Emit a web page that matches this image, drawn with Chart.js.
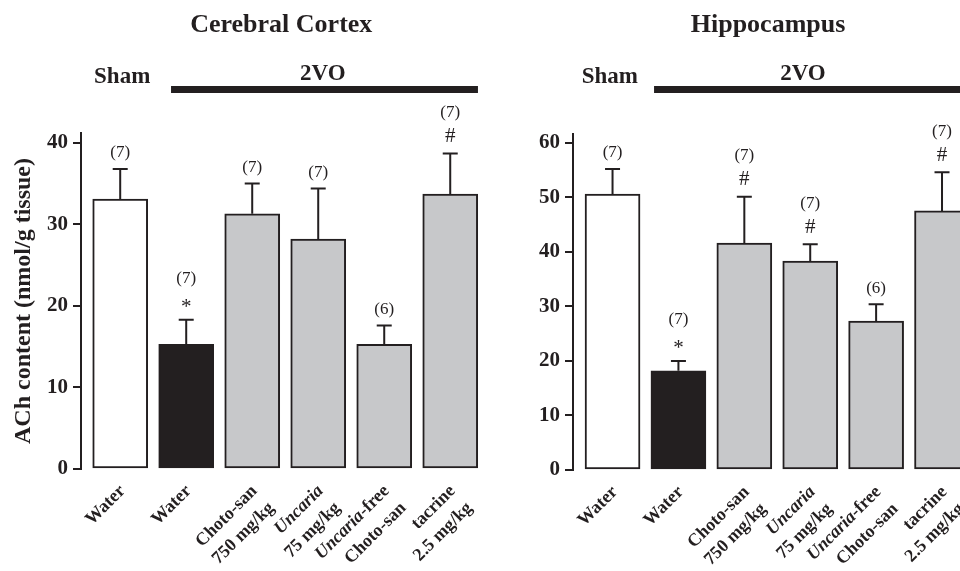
<!DOCTYPE html>
<html>
<head>
<meta charset="utf-8">
<script src="https://cdn.jsdelivr.net/npm/chart.js@4"></script>
<style>
  html, body { margin: 0; padding: 0; background: #fff; overflow: hidden; width: 960px; height: 571px; }
  canvas { position: absolute; top: 0; }
  #cortex { left: 0; }
  #hippo { left: 480px; }
</style>
</head>
<body>
<canvas id="cortex" width="480" height="571"></canvas>
<canvas id="hippo" width="520" height="571"></canvas>
<script>
// x labels, _word_ = italic
const xLabels = [['Water'], ['Water'], ['Choto-san', '750 mg/kg'], ['_Uncaria_', '75 mg/kg'], ['_Uncaria_-free', 'Choto-san'], ['tacrine', '2.5 mg/kg']];

// cerebral cortex
const cortexMean = [33.1, 15.3, 31.3, 28.2, 15.3, 33.7];
const cortexSem = [3.7, 3.0, 3.7, 6.2, 2.3, 5.0];
const cortexN = [7, 7, 7, 7, 6, 7];
const cortexSig = ['', '*', '', '', '', '#'];
const cortexTicks = [0, 10, 20, 30, 40];

// hippocampus
const hippoMean = [50.6, 18.2, 41.6, 38.3, 27.3, 47.5];
const hippoSem = [4.6, 1.8, 8.5, 3.1, 3.1, 7.1];
const hippoN = [7, 7, 7, 7, 6, 7];
const hippoSig = ['', '*', '#', '#', '', '#'];
const hippoTicks = [0, 10, 20, 30, 40, 50, 60];

const ink = '#231f20';
const serif = '"Liberation Serif", "Times New Roman", serif';
const fills = ['#ffffff', '#231f20', '#c7c8ca', '#c7c8ca', '#c7c8ca', '#c7c8ca'];

const decor = {
  id: 'decor',
  afterDatasetsDraw(chart, args, o) {
    const ctx = chart.ctx, xs = chart.scales.x, ys = chart.scales.y;
    ctx.save();
    ctx.strokeStyle = ink;
    ctx.fillStyle = ink;
    ctx.lineWidth = 2;

    // error bars + n + significance
    o.mean.forEach((m, i) => {
      const cx = xs.getPixelForValue(i);
      const y0 = ys.getPixelForValue(m), y1 = ys.getPixelForValue(m + o.sem[i]);
      ctx.beginPath();
      ctx.moveTo(cx, y0); ctx.lineTo(cx, y1);
      ctx.moveTo(cx - 7.5, y1); ctx.lineTo(cx + 7.5, y1);
      ctx.stroke();
      ctx.textAlign = 'center';
      ctx.textBaseline = 'middle';
      let ny = y1 - 16;
      if (o.sig[i]) {
        ctx.font = '21px ' + serif;
        ctx.fillText(o.sig[i], cx, y1 - (o.sig[i] === '*' ? 12 : 17));
        ny = y1 - 41;
      }
      ctx.font = '17px ' + serif;
      ctx.fillText('(' + o.n[i] + ')', cx, ny);
    });

    // rotated category labels
    const fnt = it => (it ? 'italic bold ' : 'bold ') + '18px ' + serif;
    ctx.textAlign = 'left';
    ctx.textBaseline = 'top';
    xLabels.forEach((lines, i) => {
      ctx.save();
      ctx.translate(xs.getPixelForValue(i) - 4, chart.chartArea.bottom + 13);
      ctx.rotate(-Math.PI / 4);
      lines.forEach((line, j) => {
        const parts = line.split('_');
        const w = parts.map((p, k) => { ctx.font = fnt(k % 2); return ctx.measureText(p).width; });
        let px = -w.reduce((a, b) => a + b, 0);
        parts.forEach((p, k) => { ctx.font = fnt(k % 2); ctx.fillText(p, px, j * 24); px += w[k]; });
      });
      ctx.restore();
    });

    // headers
    ctx.textAlign = 'center';
    ctx.textBaseline = 'alphabetic';
    ctx.font = 'bold 26px ' + serif;
    ctx.fillText(o.title, xs.getPixelForValue(o.titleAt), 32);
    ctx.font = 'bold 23px ' + serif;
    ctx.fillText('Sham', xs.getPixelForValue(o.shamAt), 83);
    ctx.fillText('2VO', xs.getPixelForValue(o.voAt), 80);
    const l0 = xs.getPixelForValue(o.bar[0]), l1 = xs.getPixelForValue(o.bar[1]);
    ctx.fillRect(l0, 86, l1 - l0, 7);
    ctx.restore();
  }
};

function makeChart(id, mean, sem, n, sig, ticks, cfg) {
  return new Chart(document.getElementById(id), {
    type: 'bar',
    data: {
      datasets: [{
        data: mean.map((v, i) => ({ x: i, y: v })),
        backgroundColor: fills,
        borderColor: ink,
        borderWidth: 2,
        borderSkipped: false,
        barThickness: 55
      }]
    },
    options: {
      responsive: false,
      animation: false,
      layout: { padding: { top: cfg.top, bottom: 571 - cfg.bottom, left: 0, right: 0 } },
      plugins: {
        legend: { display: false },
        tooltip: { enabled: false },
        decor: { mean: mean, sem: sem, n: n, sig: sig, title: cfg.title, titleAt: cfg.titleAt, shamAt: cfg.shamAt, voAt: cfg.voAt, bar: cfg.bar }
      },
      scales: {
        x: { type: 'linear', display: false, offset: false, grid: { offset: false }, min: cfg.xmin, max: cfg.xmax },
        y: {
          min: 0,
          max: cfg.ymax,
          afterBuildTicks: s => { s.ticks = ticks.map(v => ({ value: v })); },
          afterFit: s => { s.width = cfg.axisW; },
          border: { color: ink, width: 2 },
          grid: { drawOnChartArea: false, color: ink, lineWidth: 2, tickLength: 8 },
          ticks: { color: ink, padding: 5, font: { family: serif, size: 21, weight: 'bold' } },
          title: {
            display: cfg.yTitle !== '',
            text: cfg.yTitle,
            color: ink,
            padding: { top: 9, bottom: 0 },
            font: { family: serif, size: 24, weight: 'bold' }
          }
        }
      }
    },
    plugins: [decor]
  });
}

makeChart('cortex', cortexMean, cortexSem, cortexN, cortexSig, cortexTicks, {
  top: 133, bottom: 469, ymax: 41.2, axisW: 81, xmin: -0.594, xmax: 5.451,
  yTitle: 'ACh content (nmol/g tissue)',
  title: 'Cerebral Cortex', titleAt: 2.44, shamAt: 0.03, voAt: 3.07, bar: [0.77, 5.42]
});

makeChart('hippo', hippoMean, hippoSem, hippoN, hippoSig, hippoTicks, {
  top: 134, bottom: 470, ymax: 61.6, axisW: 93, xmin: -0.6, xmax: 5.88,
  yTitle: '',
  title: 'Hippocampus', titleAt: 2.36, shamAt: -0.04, voAt: 2.89, bar: [0.63, 7]
});
</script>
</body>
</html>
